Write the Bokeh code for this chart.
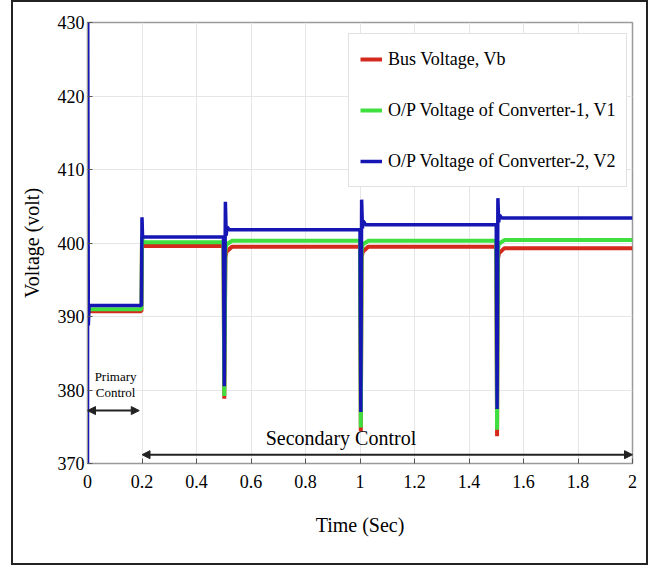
from bokeh.plotting import figure
from bokeh.models import (Range1d, FixedTicker, Legend, LegendItem,
                          Arrow, NormalHead, InlineStyleSheet)
from bokeh.core.properties import value
from bokeh.embed import file_html
from bokeh.resources import INLINE

# ---------------- data ----------------
t_vb = [0, 0.003, 0.198, 0.2, 0.203, 0.499, 0.502, 0.506, 0.51, 0.53,
        1.0, 1.003, 1.006, 1.01, 1.03, 1.5, 1.503, 1.506, 1.51, 1.53, 2.0]
vb = [390.0, 390.7, 390.7, 400.5, 399.6, 399.6, 378.8, 398.0, 398.8, 399.5,
      399.5, 374.4, 398.0, 398.8, 399.5, 399.5, 373.7, 397.8, 398.6, 399.3, 399.3]

t_v1 = [0, 0.003, 0.198, 0.2, 0.203, 0.499, 0.502, 0.506, 0.51, 0.53,
        1.0, 1.003, 1.006, 1.01, 1.03, 1.5, 1.503, 1.506, 1.51, 1.53, 2.0]
v1 = [390.2, 391.0, 391.0, 401.0, 400.1, 400.1, 379.2, 399.0, 399.8, 400.3,
      400.3, 374.9, 399.0, 399.8, 400.3, 400.3, 374.6, 399.2, 399.9, 400.4, 400.4]

t_v2 = [0, 0.0008, 0.003, 0.006, 0.198, 0.2, 0.202, 0.206,
        0.499, 0.502, 0.506, 0.509, 0.512, 0.52,
        1.0, 1.003, 1.006, 1.009, 1.012, 1.02,
        1.5, 1.503, 1.506, 1.509, 1.512, 1.52, 2.0]
v2 = [365.0, 432.0, 388.8, 391.5, 391.5, 403.5, 400.9, 400.8,
      400.8, 380.5, 405.6, 401.0, 402.2, 401.8,
      401.8, 377.0, 405.9, 402.0, 403.0, 402.5,
      402.5, 377.4, 406.1, 402.8, 403.8, 403.4, 403.4]

series_names = ["Bus Voltage, Vb", "O/P Voltage of Converter-1, V1",
                "O/P Voltage of Converter-2, V2"]
series_colors = ["#d42a1e", "#3fdf3f", "#1616b4"]

x_ticks = [0, 0.2, 0.4, 0.6, 0.8, 1.0, 1.2, 1.4, 1.6, 1.8, 2.0]
x_tick_labels = ["0", "0.2", "0.4", "0.6", "0.8", "1", "1.2", "1.4", "1.6", "1.8", "2"]
y_ticks = [370, 380, 390, 400, 410, 420, 430]
y_tick_labels = ["370", "380", "390", "400", "410", "420", "430"]

FONT = "Liberation Serif"
W, H = 648, 565

p = figure(width=W, height=H, output_backend="svg", toolbar_location=None,
           x_range=Range1d(0, 2), y_range=Range1d(370, 430),
           min_border_left=87, min_border_right=W - 632, min_border_top=22,
           min_border_bottom=H - 463)
p.background_fill_color = "white"
p.border_fill_color = "white"
p.outline_line_color = "#9a9a9a"
p.outline_line_width = 1.5

# outer picture frame drawn by CSS on the plot's host element
p.stylesheets = [InlineStyleSheet(css="""
:host { position: relative; }
:host::after {
  content: "";
  position: absolute;
  left: 11px; top: 0px;
  width: 633px; height: 561px;
  border: 2px solid #222222;
  pointer-events: none;
  z-index: 50;
}
""")]

# axes
for ax in (p.xaxis[0], p.yaxis[0]):
    ax.major_label_text_font = FONT
    ax.major_label_text_font_size = "18px"
    ax.major_label_text_color = "black"
    ax.axis_label_text_font = FONT
    ax.axis_label_text_font_size = "20px"
    ax.axis_label_text_font_style = "normal"
    ax.axis_label_text_color = "black"
    ax.axis_line_color = "#9a9a9a"
    ax.major_tick_in = 5
    ax.major_tick_out = 0
    ax.minor_tick_line_color = None
    ax.major_tick_line_color = "#555555"

p.xaxis.ticker = FixedTicker(ticks=x_ticks)
p.xaxis.major_label_overrides = dict(zip(x_ticks, x_tick_labels))
p.yaxis.ticker = FixedTicker(ticks=y_ticks)
p.yaxis.major_label_overrides = dict(zip(y_ticks, y_tick_labels))
p.xaxis.axis_label = "Time (Sec)"
p.yaxis.axis_label = "Voltage (volt)"
p.xaxis.major_label_standoff = 11
p.yaxis.major_label_standoff = 3
p.xaxis.axis_label_standoff = 23
p.yaxis.axis_label_standoff = 12

p.xgrid.grid_line_color = "#e6e6e6"
p.ygrid.grid_line_color = "#e6e6e6"
p.xgrid.ticker = FixedTicker(ticks=x_ticks)
p.ygrid.ticker = FixedTicker(ticks=y_ticks)

# series
r_vb = p.line(t_vb, vb, line_color=series_colors[0], line_width=4)
r_v1 = p.line(t_v1, v1, line_color=series_colors[1], line_width=4)
r_v2 = p.line(t_v2, v2, line_color=series_colors[2], line_width=3.5)

legend = Legend(items=[LegendItem(label=series_names[0], renderers=[r_vb]),
                       LegendItem(label=series_names[1], renderers=[r_v1]),
                       LegendItem(label=series_names[2], renderers=[r_v2])],
                location=(261, 276))
legend.label_text_font = FONT
legend.label_text_font_size = "18px"
legend.label_text_color = "black"
legend.border_line_color = "#c4c4c4"
legend.border_line_width = 1.5
legend.background_fill_color = "white"
legend.background_fill_alpha = 1.0
legend.padding = 11
legend.margin = 0
legend.spacing = 23
legend.glyph_width = 22
legend.glyph_height = 28
legend.label_height = 28
legend.label_standoff = 6
p.add_layout(legend, "center")

# annotations
head = dict(size=8, fill_color="#222222", line_color="#222222")
p.add_layout(Arrow(start=NormalHead(**head), end=NormalHead(**head),
                   x_start=0.0, y_start=377.2, x_end=0.19, y_end=377.2,
                   line_color="#222222", line_width=2))
p.add_layout(Arrow(start=NormalHead(**head), end=NormalHead(**head),
                   x_start=0.2, y_start=371.2, x_end=2.0, y_end=371.2,
                   line_color="#222222", line_width=2))

p.text(x=[0.103, 0.103], y=[381.8, 379.7], text=["Primary", "Control"],
       text_font=value(FONT), text_font_size="13px", text_align="center",
       text_baseline="middle", text_color="black")
p.text(x=[0.93], y=[373.5], text=["Secondary Control"],
       text_font=value(FONT), text_font_size="20px", text_align="center",
       text_baseline="middle", text_color="black")

open("out.html", "w").write(file_html(p, INLINE))
